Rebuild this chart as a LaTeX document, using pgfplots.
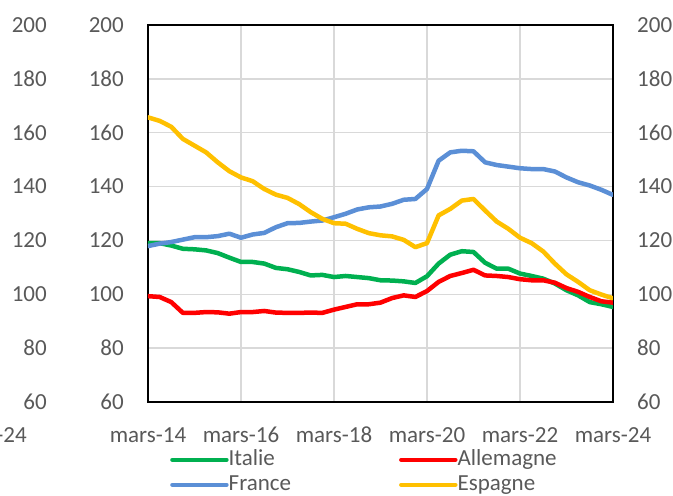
\documentclass[border=0pt]{standalone}
\usepackage{fontspec}
\setmainfont{Carlito}
\usepackage{pgfplots}
\usepackage{pgfplotstable}
\pgfplotsset{compat=1.18}

\definecolor{cItalie}{HTML}{00B050}
\definecolor{cAllemagne}{HTML}{FF0000}
\definecolor{cFrance}{HTML}{5B8FD6}
\definecolor{cEspagne}{HTML}{FFC000}
\definecolor{tickgray}{HTML}{595959}
\definecolor{gridgray}{HTML}{D9D9D9}

% quarterly index, 0 = mars-14 ... 40 = mars-24
\pgfplotstableread{
q  ita    all    fra    esp
0  119.0  99.3   117.9  165.7
1  119.0  99.0   118.8  164.4
2  118.1  97.1   119.4  162.2
3  116.9  93.1   120.3  157.7
4  116.7  93.1   121.2  155.2
5  116.3  93.4   121.2  152.7
6  115.3  93.3   121.6  149.0
7  113.6  92.8   122.5  145.7
8  112.0  93.4   121.0  143.4
9  112.0  93.4   122.2  142.0
10 111.4  93.8   122.8  139.1
11 109.8  93.2   124.9  137.0
12 109.3  93.1   126.4  135.8
13 108.3  93.1   126.5  133.5
14 107.0  93.2   127.0  130.5
15 107.2  93.1   127.4  128.0
16 106.4  94.3   128.6  126.4
17 106.8  95.3   129.9  126.2
18 106.4  96.3   131.5  124.3
19 106.0  96.3   132.3  122.7
20 105.2  96.9   132.6  121.9
21 105.1  98.6   133.6  121.5
22 104.8  99.6   135.1  120.2
23 104.2  99.0   135.4  117.5
24 106.7  101.2  139.1  119.0
25 111.4  104.6  149.6  129.3
26 114.7  106.8  152.7  131.7
27 116.0  107.9  153.3  134.8
28 115.7  109.1  153.1  135.4
29 111.7  107.0  149.0  131.1
30 109.5  106.8  148.0  127.0
31 109.5  106.4  147.4  124.3
32 107.7  105.6  146.8  121.0
33 106.8  105.2  146.5  119.0
34 105.8  105.2  146.5  115.9
35 104.0  104.3  145.6  111.4
36 101.5  102.3  143.4  107.4
37 99.6   100.9  141.6  104.6
38 97.1   99.0   140.4  101.5
39 96.3   97.4   138.8  99.9
40 95.3   96.9   136.9  98.5
}\data

\pgfplotsset{
  base/.style={
    scale only axis, width=465pt, height=377pt,
    at={(0pt,0pt)}, anchor=south west,
    xmin=0, xmax=40, ymin=60, ymax=200,
    ytick={60,80,...,200},
    major tick length=0pt,
    tick label style={font=\fontsize{23}{27}\selectfont, text=tickgray},
    /pgf/number format/assume math mode=true,
  },
}

\begin{document}
\begin{tikzpicture}
\useasboundingbox (-148pt,-94pt) rectangle (525pt,402pt);

% far-left duplicate tick column
\begin{axis}[base, hide x axis, axis y line*=left,
  y axis line style={draw=none},
  yticklabel style={anchor=east, inner sep=0pt, xshift=-101pt}]
\end{axis}

% right tick column
\begin{axis}[base, hide x axis, axis y line*=right,
  y axis line style={draw=none},
  yticklabel style={anchor=west, inner sep=0pt, xshift=24pt}]
\end{axis}

\begin{axis}[base,
  axis line style={black, line width=2pt},
  grid=major,
  major grid style={gridgray, line width=1.3pt},
  xtick={0,8,16,24,32,40},
  xticklabels={mars-14,mars-16,mars-18,mars-20,mars-22,mars-24},
  xticklabel style={anchor=base, inner sep=0pt, yshift=-40pt},
  yticklabel style={anchor=east, inner sep=0pt, xshift=-24pt},
  every axis plot/.append style={line width=4.5pt, line join=round, line cap=round},
  legend columns=2,
  legend image code/.code={\draw[#1, line cap=round] (0pt,0pt) -- (54pt,0pt);},
  legend style={draw=none, fill=none, inner sep=0pt,
    at={(0.0473,-0.1250)}, anchor=north west,
    font=\fontsize{23}{27}\selectfont, text=tickgray,
    nodes={inner sep=0pt, text height=16pt, text depth=5pt},
    row sep=4pt,
    /tikz/every odd column/.append style={column sep=0pt},
    /tikz/every even column/.append style={column sep=108pt}},
  legend cell align=left,
]
\addplot[cItalie] table[x=q, y=ita] {\data};
\addlegendentry{Italie}
\addplot[cAllemagne] table[x=q, y=all] {\data};
\addlegendentry{Allemagne}
\addplot[cFrance] table[x=q, y=fra] {\data};
\addlegendentry{France}
\addplot[cEspagne] table[x=q, y=esp] {\data};
\addlegendentry{Espagne}
\end{axis}

\node[anchor=base east, inner sep=0pt, text=tickgray, font=\fontsize{23}{27}\selectfont]
  at (-121pt,-40pt) {-24};
\end{tikzpicture}
\end{document}
